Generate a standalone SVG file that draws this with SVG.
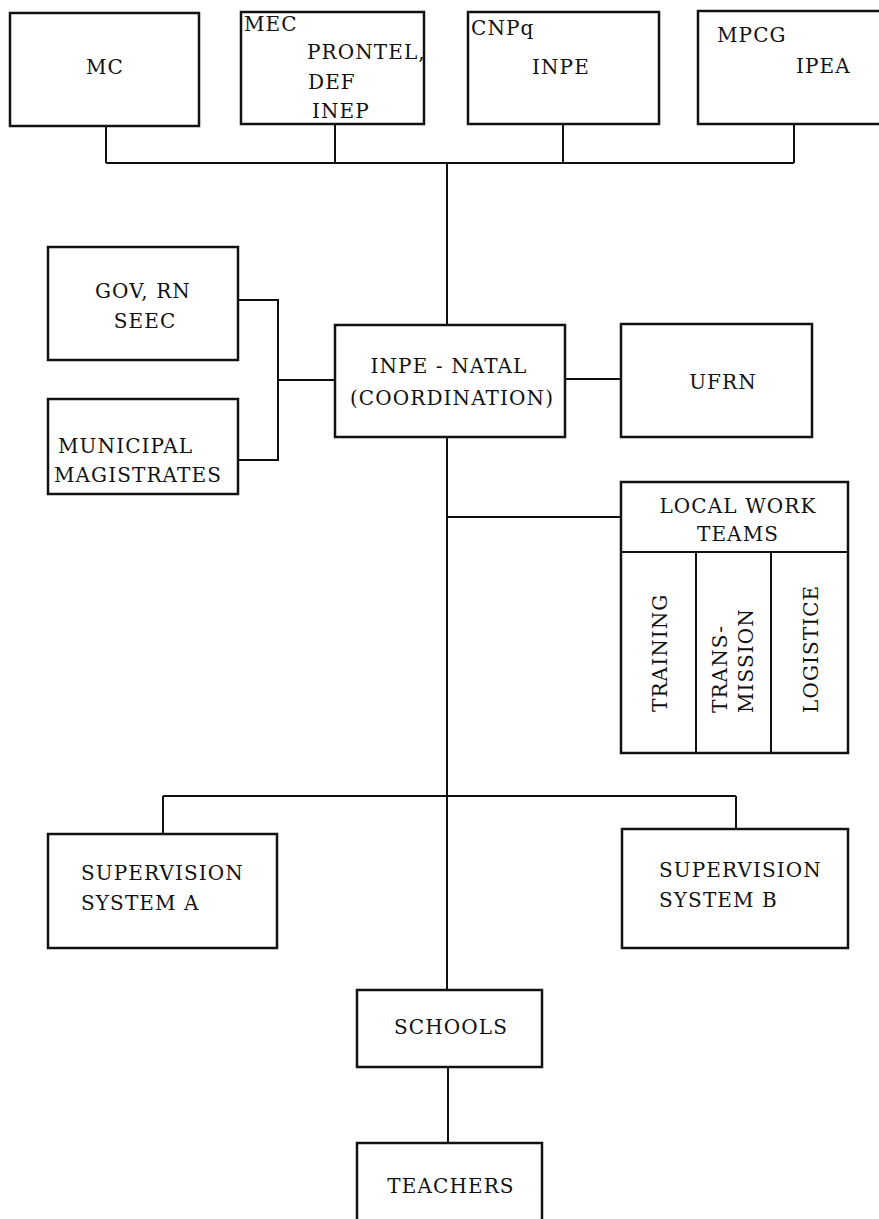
<svg xmlns="http://www.w3.org/2000/svg" width="879" height="1219" viewBox="0 0 879 1219">
<style>
.box{fill:#fff;stroke:#111;stroke-width:2.5}
.ln{fill:none;stroke:#111;stroke-width:2}
text{font-family:"DejaVu Serif","Liberation Serif",serif;font-size:20px;fill:#111;letter-spacing:1.1px}
.c{text-anchor:middle}
</style>
<rect width="879" height="1219" fill="#fff"/>
<g id="connectors">
<path class="ln" d="M106,126 V163 M335,124 V163 M563,124 V163 M794,124 V163 M106,163 H794 M447,163 V325"/>
<path class="ln" d="M238,300 H278 V460 H238 M278,380 H335"/>
<path class="ln" d="M565,379 H621"/>
<path class="ln" d="M447,437 V990 M447,517 H621"/>
<path class="ln" d="M163,796 H736 M163,796 V834 M736,796 V829"/>
<path class="ln" d="M448,1067 V1143"/>
</g>
<g id="mc"><rect class="box" x="10" y="13" width="189" height="113"/><text class="c" x="105" y="74">MC</text></g>
<g id="mec"><rect class="box" x="241" y="12" width="183" height="112"/>
<text x="244" y="31">MEC</text><text x="307" y="59">PRONTEL,</text><text x="308" y="89">DEF</text><text x="312" y="118">INEP</text></g>
<g id="cnpq"><rect class="box" x="468" y="12" width="191" height="112"/>
<text x="471" y="35">CNPq</text><text x="532" y="74">INPE</text></g>
<g id="mpcg"><rect class="box" x="698" y="11" width="190" height="113"/>
<text x="717" y="42">MPCG</text><text x="796" y="73">IPEA</text></g>
<g id="gov"><rect class="box" x="48" y="247" width="190" height="113"/>
<text class="c" x="143" y="298">GOV,  RN</text><text class="c" x="145" y="328">SEEC</text></g>
<g id="municipal"><rect class="box" x="48" y="399" width="190" height="95"/>
<text x="58" y="453">MUNICIPAL</text><text x="54" y="482">MAGISTRATES</text></g>
<g id="inpe-natal"><rect class="box" x="335" y="325" width="230" height="112"/>
<text class="c" x="449" y="373">INPE - NATAL</text><text class="c" x="452" y="405">(COORDINATION)</text></g>
<g id="ufrn"><rect class="box" x="621" y="324" width="191" height="113"/><text class="c" x="723" y="389">UFRN</text></g>
<g id="local-work-teams"><rect class="box" x="621" y="482" width="227" height="271"/>
<path class="ln" d="M621,552 H848 M696,552 V753 M771,552 V753"/>
<text class="c" x="738" y="513">LOCAL WORK</text><text class="c" x="738" y="541">TEAMS</text>
<text transform="translate(667,712) rotate(-90)">TRAINING</text>
<text transform="translate(727,713) rotate(-90)">TRANS-</text>
<text transform="translate(753,713) rotate(-90)">MISSION</text>
<text transform="translate(818,713) rotate(-90)">LOGISTICE</text></g>
<g id="supervision-a"><rect class="box" x="48" y="834" width="229" height="114"/>
<text x="81" y="880">SUPERVISION</text><text x="81" y="910">SYSTEM  A</text></g>
<g id="supervision-b"><rect class="box" x="622" y="829" width="226" height="119"/>
<text x="659" y="877">SUPERVISION</text><text x="659" y="907">SYSTEM  B</text></g>
<g id="schools"><rect class="box" x="357" y="990" width="185" height="77"/><text class="c" x="451" y="1034">SCHOOLS</text></g>
<g id="teachers"><rect class="box" x="357" y="1143" width="185" height="85"/><text class="c" x="451" y="1193">TEACHERS</text></g>
</svg>
